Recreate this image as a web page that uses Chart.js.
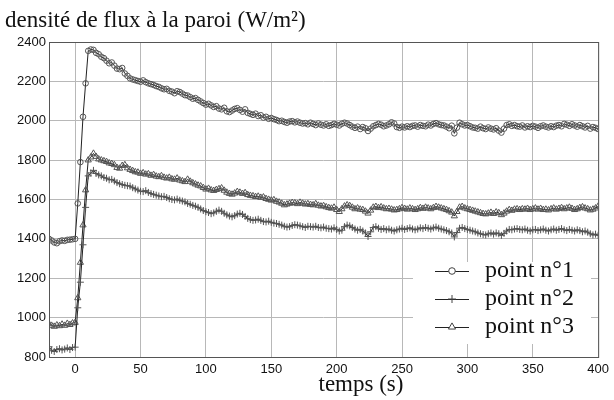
<!DOCTYPE html>
<html>
<head>
<meta charset="utf-8">
<script src="https://cdn.jsdelivr.net/npm/chart.js"></script>
<style>
  body { margin: 0; background: #fff; }
</style>
</head>
<body>
<canvas id="fluxChart" width="614" height="400"></canvas>
<script>
// flux density (W/m²) sampled every 2 s from -20 s to 400 s
const flux1 = [
  1400, 1392, 1382, 1378, 1388, 1392, 1390, 1395, 1396, 1398,
  1400, 1580, 1790, 2020, 2190, 2355, 2362, 2360, 2345, 2338,
  2325, 2318, 2305, 2292, 2296, 2280, 2265, 2262, 2268, 2240,
  2228, 2215, 2210, 2206, 2202, 2198, 2205, 2196, 2190, 2186,
  2182, 2176, 2172, 2165, 2160, 2162, 2152, 2148, 2140, 2150,
  2146, 2138, 2130, 2128, 2120, 2112, 2115, 2106, 2098, 2090,
  2082, 2086, 2078, 2070, 2074, 2062, 2058, 2066, 2048, 2044,
  2052, 2060, 2064, 2055, 2046, 2058, 2040, 2035, 2030, 2036,
  2024, 2028, 2016, 2020, 2010, 2014, 2008, 2004, 1998, 2000,
  1994, 1990, 1996, 1998, 1992, 1996, 1990, 1986, 1988, 1982,
  1990, 1984, 1978, 1986, 1980, 1976, 1982, 1974, 1978, 1984,
  1980, 1976, 1985, 1990, 1986, 1978, 1970, 1964, 1970, 1958,
  1968, 1962, 1948, 1960, 1972, 1978, 1984, 1980, 1972, 1976,
  1982, 1992, 1986, 1968, 1964, 1970, 1966, 1972, 1968, 1974,
  1976, 1970, 1978, 1974, 1972, 1980, 1976, 1984, 1988, 1982,
  1978, 1976, 1970, 1962, 1975, 1936, 1965, 1990, 1982, 1976,
  1978, 1972, 1966, 1964, 1960, 1970, 1962, 1958, 1966, 1960,
  1956, 1962, 1950, 1940, 1960, 1978, 1982, 1974, 1978, 1972,
  1970, 1976, 1966, 1972, 1968, 1974, 1970, 1964, 1972, 1976,
  1970, 1966, 1972, 1968, 1975, 1978, 1972, 1984, 1980, 1974,
  1982, 1976, 1970, 1978, 1972, 1966, 1974, 1960, 1968, 1964,
  1958
];
const flux2 = [
  852, 834, 828, 838, 842, 836, 840, 846, 838, 848,
  850, 1050, 1180, 1370, 1560, 1720, 1735, 1748, 1732, 1725,
  1720, 1712, 1708, 1700, 1702, 1694, 1686, 1680, 1676, 1672,
  1670, 1668, 1660, 1654, 1648, 1642, 1640, 1645, 1636, 1630,
  1626, 1622, 1618, 1614, 1616, 1610, 1604, 1600, 1598, 1602,
  1596, 1592, 1588, 1580, 1576, 1570, 1566, 1560, 1552, 1544,
  1538, 1534, 1528, 1532, 1540, 1546, 1540, 1530, 1522, 1516,
  1512, 1518, 1526, 1530, 1524, 1514, 1504, 1498, 1494, 1496,
  1500, 1494, 1488, 1486, 1490, 1484, 1480, 1478, 1474, 1470,
  1464, 1460, 1462, 1468, 1472, 1470, 1466, 1462, 1458, 1464,
  1462, 1460, 1464, 1458, 1456, 1460, 1454, 1452, 1450, 1456,
  1448, 1440, 1444, 1462, 1470, 1466, 1458, 1450, 1444, 1448,
  1440, 1430, 1412, 1436, 1458, 1462, 1454, 1448, 1452, 1446,
  1450, 1444, 1440, 1446, 1450, 1454, 1448, 1452, 1456, 1450,
  1446, 1450, 1456, 1452, 1458, 1454, 1450, 1456, 1460, 1454,
  1450, 1446, 1442, 1436, 1430, 1410, 1432, 1454, 1458, 1452,
  1448, 1444, 1440, 1436, 1430, 1426, 1422, 1420, 1426, 1430,
  1424, 1430, 1426, 1418, 1428, 1440, 1448, 1446, 1450, 1452,
  1448, 1446, 1450, 1444, 1440, 1446, 1448, 1442, 1446, 1450,
  1444, 1440, 1446, 1450, 1444, 1448, 1452, 1446, 1442, 1448,
  1444, 1440, 1446, 1442, 1436, 1440, 1434, 1426, 1420, 1424,
  1418
];
const flux3 = [
  968, 960, 955, 962, 958, 966, 960, 970, 964, 972,
  975, 1100, 1280, 1470, 1648, 1800, 1815, 1834, 1818, 1805,
  1800, 1796, 1792, 1785, 1782, 1776, 1762, 1758, 1772, 1776,
  1760, 1752, 1746, 1740, 1738, 1732, 1735, 1728, 1730, 1722,
  1726, 1718, 1715, 1720, 1712, 1708, 1712, 1704, 1702, 1708,
  1698, 1694, 1690, 1702, 1692, 1684, 1678, 1672, 1668, 1660,
  1652, 1656, 1648, 1645, 1650, 1654, 1658, 1646, 1636, 1630,
  1626, 1632, 1640, 1636, 1630, 1634, 1624, 1620, 1618, 1614,
  1616, 1610, 1612, 1604, 1600, 1596, 1598, 1590, 1586, 1580,
  1572, 1576, 1580, 1584, 1582, 1578, 1585, 1580, 1576, 1578,
  1574, 1572, 1578, 1570, 1566, 1568, 1562, 1558, 1555, 1560,
  1548, 1538, 1552, 1566, 1572, 1568, 1560, 1552, 1556, 1550,
  1548, 1540, 1530, 1545, 1560, 1564, 1558, 1562, 1556, 1552,
  1554, 1550, 1546, 1548, 1552, 1558, 1554, 1550, 1556, 1552,
  1548, 1552, 1558, 1554, 1560, 1556, 1552, 1558, 1564, 1560,
  1556, 1552, 1548, 1542, 1535, 1516, 1538, 1560, 1564, 1556,
  1552, 1548, 1544, 1540, 1536, 1532, 1528, 1526, 1530, 1534,
  1528, 1536, 1532, 1522, 1530, 1540, 1548, 1544, 1550, 1552,
  1548, 1552, 1550, 1554, 1548, 1552, 1556, 1550, 1554, 1548,
  1550, 1546, 1552, 1556, 1550, 1554, 1558, 1552, 1556, 1560,
  1554, 1548, 1552, 1558, 1562, 1556, 1552, 1546, 1550, 1556,
  1565
];
const times = flux1.map((_, i) => -20 + 2 * i);
const seriesNames = ["point n°1", "point n°2", "point n°3"];
const xTicks = [0, 50, 100, 150, 200, 250, 300, 350, 400];
const yTicks = [800, 1000, 1200, 1400, 1600, 1800, 2000, 2200, 2400];

const toPoints = (vals) => vals.map((v, i) => ({ x: times[i], y: v }));
const markers = [
  { style: "circle", radius: 2.8 },
  { style: "cross", radius: 3.5 },
  { style: "triangle", radius: 3.6 }
];

const datasets = [flux1, flux2, flux3].map((vals, i) => ({
  label: seriesNames[i],
  data: toPoints(vals),
  borderColor: "#222",
  borderWidth: 1,
  pointStyle: markers[i].style,
  pointRadius: markers[i].radius,
  pointBorderColor: "#555",
  pointBackgroundColor: "rgba(255,255,255,0)",
  pointBorderWidth: 1
}));

// box around the plot, titles and the in-plot legend
const decor = {
  id: "decor",
  afterDatasetsDraw(chart) {
    const { ctx, chartArea: a } = chart;
    ctx.save();
    ctx.strokeStyle = "#555";
    ctx.lineWidth = 1;
    ctx.strokeRect(a.left + 0.5, a.top + 0.5, a.right - a.left, a.bottom - a.top);
    ctx.restore();
  },
  afterDraw(chart) {
    const ctx = chart.ctx;
    ctx.save();
    ctx.fillStyle = "#111";
    ctx.font = '23px "Liberation Serif"';
    ctx.textBaseline = "alphabetic";
    ctx.fillText("densité de flux à la paroi (W/m²)", 5, 27);
    ctx.textAlign = "center";
    ctx.textBaseline = "middle";
    ctx.fillText("temps (s)", 361, 385);

    // legend
    ctx.fillStyle = "#fff";
    ctx.fillRect(413, 262, 178, 82);
    const rows = [271, 299, 327];
    rows.forEach((y, i) => {
      ctx.strokeStyle = "#222";
      ctx.lineWidth = 1;
      ctx.beginPath();
      ctx.moveTo(435, y + 0.5);
      ctx.lineTo(469, y + 0.5);
      ctx.stroke();
      ctx.strokeStyle = "#444";
      ctx.fillStyle = "#fff";
      Chart.helpers.drawPoint(ctx, {
        pointStyle: markers[i].style,
        radius: markers[i].radius + 0.5,
        rotation: 0,
        borderWidth: 1
      }, 452, y);
      ctx.fillStyle = "#111";
      ctx.font = '24px "Liberation Serif"';
      ctx.textAlign = "left";
      ctx.textBaseline = "middle";
      ctx.fillText(seriesNames[i], 485, y);
    });
    ctx.restore();
  }
};

const gridStyle = {
  color: "#b8b8b8",
  lineWidth: 1,
  borderDash: [1, 2],
  drawTicks: false
};

new Chart(document.getElementById("fluxChart"), {
  type: "line",
  data: { datasets: datasets },
  options: {
    responsive: false,
    animation: false,
    layout: { padding: { top: 42, right: 11, left: 0, bottom: 0 } },
    plugins: {
      legend: { display: false },
      tooltip: { enabled: false }
    },
    scales: {
      x: {
        type: "linear",
        min: -20,
        max: 400,
        border: { display: false },
        grid: gridStyle,
        afterBuildTicks: (axis) => { axis.ticks = xTicks.map(v => ({ value: v })); },
        afterFit: (axis) => { axis.height = 43; },
        ticks: {
          padding: 5,
          color: "#111",
          font: { family: "Liberation Sans", size: 13 },
          callback: (v) => String(v)
        }
      },
      y: {
        min: 800,
        max: 2400,
        border: { display: false },
        grid: gridStyle,
        afterBuildTicks: (axis) => { axis.ticks = yTicks.map(v => ({ value: v })); },
        afterFit: (axis) => { axis.width = 49; },
        ticks: {
          padding: 3,
          color: "#111",
          font: { family: "Liberation Sans", size: 13 },
          callback: (v) => String(v)
        }
      }
    }
  },
  plugins: [decor]
});
</script>
</body>
</html>
